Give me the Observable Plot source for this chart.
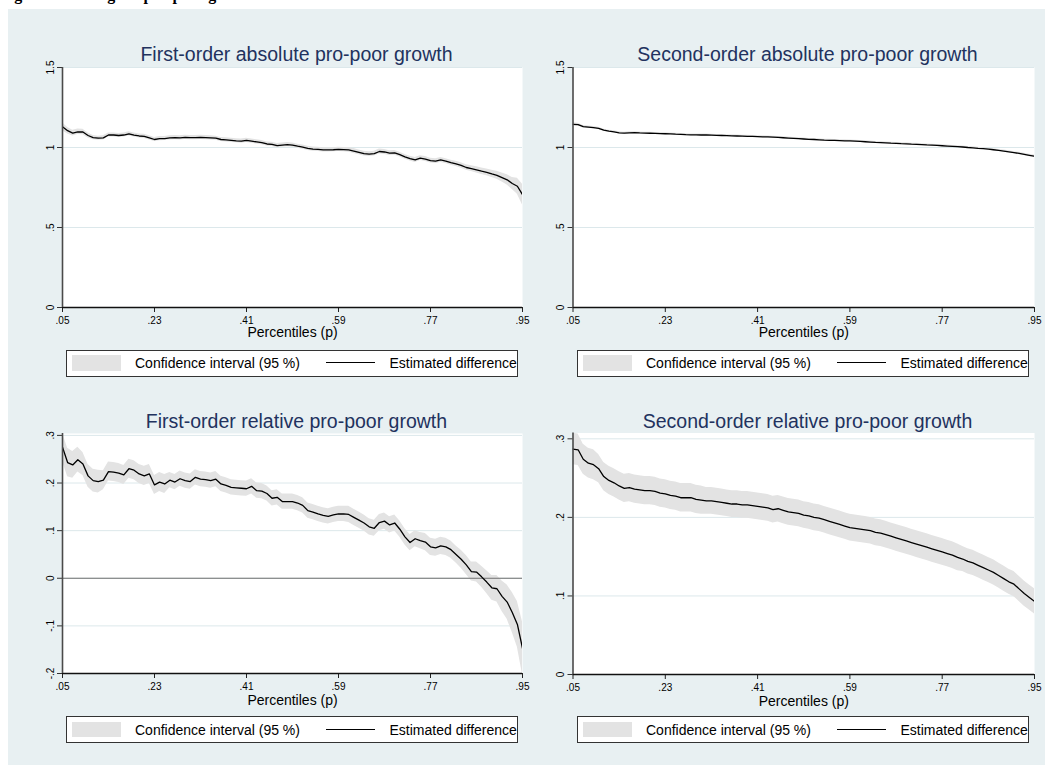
<!DOCTYPE html>
<html><head><meta charset="utf-8">
<script src="https://cdn.jsdelivr.net/npm/d3@7"></script>
<script src="https://cdn.jsdelivr.net/npm/@observablehq/plot@0.6"></script>
<style>
html,body{margin:0;padding:0;background:#fff;}
#page{position:relative;width:1053px;height:772px;overflow:hidden;font-family:"Liberation Sans",Arial,sans-serif;}
#bg{position:absolute;left:8px;top:9px;width:1037px;height:756px;background:#e8f0f2;}
.caption{position:absolute;left:0;top:-14px;font:bold 16px "Liberation Serif","Times New Roman",serif;white-space:nowrap;color:#000;}
.title{position:absolute;width:500px;text-align:center;font-size:19.5px;line-height:20px;color:#22325e;white-space:nowrap;}
.panel{position:absolute;}
.legend{position:absolute;width:452px;height:27px;box-sizing:border-box;border:1px solid #333;background:#fff;overflow:hidden;}
.legend .sw{position:absolute;left:5px;top:4.5px;width:49px;height:15.5px;background:#e3e3e3;}
.legend .ln{position:absolute;left:259px;top:11.5px;width:49px;height:0;border-top:1.5px solid #000;}
.legend .t{position:absolute;top:5.6px;font-size:14px;line-height:14px;white-space:nowrap;color:#000;}
</style>
</head>
<body>
<div id="page"><div id="bg"></div></div>
<script>
const captionText = "Figure 4: Testing for pro-poor growth";
const titles = [
  "First-order absolute pro-poor growth",
  "Second-order absolute pro-poor growth",
  "First-order relative pro-poor growth",
  "Second-order relative pro-poor growth"
];
const xAxisLabel = "Percentiles (p)";
const legendLabels = ["Confidence interval (95 %)", "Estimated difference"];

const xTicks = [0.05, 0.23, 0.41, 0.59, 0.77, 0.95];
const xTickLabels = [".05", ".23", ".41", ".59", ".77", ".95"];
const absTicks = [0, 0.5, 1, 1.5];
const absTickLabels = ["0", ".5", "1", "1.5"];
const foRelTicks = [-0.2, -0.1, 0, 0.1, 0.2, 0.3];
const foRelTickLabels = ["-.2", "-.1", "0", ".1", ".2", ".3"];
const soRelTicks = [0, 0.1, 0.2, 0.3];
const soRelTickLabels = ["0", ".1", ".2", ".3"];

const percentiles = [
  0.05,0.06,0.07,0.08,0.09,0.10,0.11,0.12,0.13,0.14,
  0.15,0.16,0.17,0.18,0.19,0.20,0.21,0.22,0.23,0.24,
  0.25,0.26,0.27,0.28,0.29,0.30,0.31,0.32,0.33,0.34,
  0.35,0.36,0.37,0.38,0.39,0.40,0.41,0.42,0.43,0.44,
  0.45,0.46,0.47,0.48,0.49,0.50,0.51,0.52,0.53,0.54,
  0.55,0.56,0.57,0.58,0.59,0.60,0.61,0.62,0.63,0.64,
  0.65,0.66,0.67,0.68,0.69,0.70,0.71,0.72,0.73,0.74,
  0.75,0.76,0.77,0.78,0.79,0.80,0.81,0.82,0.83,0.84,
  0.85,0.86,0.87,0.88,0.89,0.90,0.91,0.92,0.93,0.94,
  0.95
];

// First-order absolute: estimate and half-width of 95% CI
const foAbsEst = [
  1.130,1.105,1.090,1.098,1.097,1.075,1.062,1.058,1.060,1.078,
  1.078,1.075,1.078,1.085,1.078,1.072,1.070,1.060,1.050,1.055,
  1.056,1.060,1.062,1.060,1.063,1.062,1.062,1.063,1.062,1.060,
  1.058,1.050,1.048,1.045,1.042,1.040,1.045,1.040,1.035,1.030,
  1.022,1.020,1.012,1.015,1.018,1.015,1.008,1.002,0.995,0.990,
  0.988,0.985,0.985,0.986,0.988,0.987,0.985,0.978,0.970,0.962,
  0.958,0.962,0.975,0.972,0.965,0.967,0.955,0.942,0.930,0.922,
  0.933,0.928,0.918,0.915,0.922,0.915,0.905,0.898,0.888,0.875,
  0.868,0.860,0.852,0.845,0.835,0.826,0.812,0.798,0.775,0.758,
  0.705
];
const foAbsHw = [
  0.025,0.020,0.018,0.017,0.017,0.016,0.013,0.013,0.013,0.013,
  0.013,0.013,0.013,0.013,0.013,0.013,0.013,0.013,0.013,0.013,
  0.013,0.013,0.013,0.013,0.013,0.013,0.013,0.013,0.013,0.013,
  0.013,0.013,0.013,0.013,0.013,0.013,0.013,0.013,0.013,0.013,
  0.013,0.013,0.013,0.013,0.013,0.013,0.013,0.013,0.013,0.013,
  0.013,0.013,0.013,0.013,0.013,0.013,0.015,0.015,0.015,0.015,
  0.015,0.015,0.015,0.015,0.015,0.015,0.015,0.015,0.015,0.015,
  0.015,0.015,0.015,0.015,0.015,0.015,0.016,0.016,0.017,0.017,
  0.018,0.019,0.020,0.021,0.023,0.025,0.028,0.032,0.038,0.050,
  0.065
];

// Second-order absolute
const soAbsEst = [
  1.145,1.143,1.130,1.127,1.124,1.120,1.108,1.102,1.098,1.092,
  1.090,1.092,1.093,1.091,1.090,1.089,1.088,1.087,1.086,1.085,
  1.083,1.082,1.080,1.079,1.079,1.078,1.078,1.077,1.076,1.075,
  1.074,1.073,1.072,1.071,1.070,1.069,1.068,1.067,1.066,1.065,
  1.063,1.061,1.059,1.057,1.055,1.053,1.051,1.050,1.048,1.046,
  1.045,1.044,1.043,1.042,1.041,1.040,1.038,1.036,1.034,1.032,
  1.031,1.029,1.027,1.026,1.024,1.023,1.021,1.020,1.018,1.016,
  1.015,1.013,1.011,1.009,1.007,1.005,1.003,1.000,0.998,0.995,
  0.993,0.990,0.986,0.982,0.978,0.973,0.968,0.963,0.957,0.951,
  0.945
];
const soAbsHw = [
  0.010,0.009,0.008,0.007,0.007,0.006,0.006,0.006,0.006,0.006,
  0.006,0.006,0.006,0.006,0.006,0.006,0.006,0.006,0.006,0.006,
  0.006,0.006,0.006,0.006,0.006,0.006,0.006,0.006,0.006,0.006,
  0.006,0.006,0.006,0.006,0.006,0.006,0.006,0.006,0.006,0.006,
  0.006,0.006,0.006,0.006,0.006,0.006,0.006,0.006,0.006,0.006,
  0.006,0.006,0.006,0.006,0.006,0.006,0.006,0.006,0.006,0.006,
  0.006,0.006,0.006,0.006,0.006,0.006,0.006,0.006,0.006,0.006,
  0.006,0.006,0.006,0.006,0.006,0.006,0.006,0.006,0.006,0.006,
  0.006,0.006,0.006,0.006,0.006,0.006,0.006,0.007,0.007,0.007,
  0.008
];

// First-order relative
const foRelEst = [
  0.275,0.243,0.238,0.249,0.240,0.215,0.205,0.203,0.206,0.224,
  0.223,0.221,0.217,0.230,0.227,0.219,0.215,0.219,0.196,0.202,
  0.198,0.206,0.202,0.209,0.205,0.203,0.212,0.208,0.207,0.205,
  0.208,0.198,0.195,0.191,0.190,0.189,0.188,0.193,0.184,0.183,
  0.178,0.168,0.170,0.161,0.161,0.161,0.158,0.153,0.142,0.139,
  0.135,0.132,0.130,0.133,0.135,0.135,0.134,0.128,0.122,0.116,
  0.108,0.105,0.117,0.120,0.112,0.116,0.103,0.087,0.075,0.083,
  0.079,0.076,0.066,0.064,0.068,0.066,0.060,0.050,0.040,0.028,
  0.014,0.013,0.003,-0.008,-0.020,-0.022,-0.038,-0.050,-0.072,-0.097,
  -0.147
];
const foRelHw = [
  0.030,0.030,0.028,0.026,0.024,0.024,0.024,0.024,0.020,0.020,
  0.020,0.020,0.020,0.020,0.020,0.020,0.020,0.020,0.020,0.020,
  0.020,0.016,0.016,0.016,0.016,0.016,0.016,0.016,0.016,0.016,
  0.016,0.016,0.016,0.016,0.016,0.016,0.016,0.016,0.016,0.016,
  0.016,0.016,0.016,0.016,0.016,0.016,0.016,0.016,0.016,0.016,
  0.016,0.016,0.016,0.016,0.016,0.016,0.017,0.017,0.017,0.017,
  0.017,0.017,0.017,0.017,0.017,0.017,0.017,0.017,0.017,0.017,
  0.017,0.018,0.018,0.018,0.018,0.018,0.018,0.018,0.019,0.020,
  0.020,0.021,0.022,0.024,0.026,0.028,0.032,0.036,0.042,0.048,
  0.055
];

// Second-order relative
const soRelEst = [
  0.287,0.286,0.274,0.269,0.267,0.262,0.252,0.247,0.244,0.240,
  0.237,0.238,0.236,0.235,0.234,0.234,0.233,0.231,0.230,0.228,
  0.227,0.225,0.225,0.225,0.223,0.222,0.221,0.221,0.220,0.219,
  0.218,0.217,0.217,0.216,0.216,0.215,0.214,0.213,0.212,0.210,
  0.211,0.209,0.207,0.206,0.205,0.203,0.202,0.200,0.199,0.197,
  0.195,0.193,0.191,0.189,0.187,0.186,0.185,0.184,0.183,0.181,
  0.180,0.178,0.176,0.174,0.172,0.170,0.168,0.166,0.164,0.162,
  0.160,0.158,0.156,0.154,0.152,0.149,0.147,0.144,0.142,0.139,
  0.136,0.133,0.130,0.126,0.122,0.118,0.115,0.109,0.103,0.098,
  0.093
];
const soRelHw = [
  0.020,0.020,0.019,0.019,0.019,0.018,0.018,0.018,0.018,0.018,
  0.018,0.018,0.018,0.018,0.018,0.018,0.018,0.018,0.018,0.018,
  0.018,0.018,0.018,0.018,0.018,0.018,0.017,0.017,0.017,0.017,
  0.017,0.017,0.017,0.017,0.017,0.017,0.017,0.017,0.017,0.017,
  0.017,0.017,0.017,0.017,0.017,0.017,0.017,0.017,0.017,0.017,
  0.017,0.017,0.017,0.017,0.017,0.017,0.017,0.017,0.017,0.017,
  0.017,0.017,0.017,0.017,0.017,0.017,0.017,0.017,0.017,0.017,
  0.017,0.017,0.017,0.017,0.017,0.017,0.016,0.016,0.016,0.016,
  0.016,0.016,0.016,0.016,0.016,0.016,0.016,0.016,0.016,0.016,
  0.016
];

const FONT = '"Liberation Sans", Arial, sans-serif';
const page = document.getElementById("page");

const cap = document.createElement("div");
cap.className = "caption";
cap.textContent = captionText;
page.appendChild(cap);

const panels = [
  {title: titles[0], est: foAbsEst, hw: foAbsHw, yTicks: absTicks, yLabels: absTickLabels, yDomain: [0, 1.5],
   left: 0, top: 40, width: 530, height: 310, mL: 62, mR: 8, mT: 27, mB: 43, labDy: 25,
   titleX: 296.5, titleBase: 61, legLeft: 66, legTop: 349.5, zero: false},
  {title: titles[1], est: soAbsEst, hw: soAbsHw, yTicks: absTicks, yLabels: absTickLabels, yDomain: [0, 1.5],
   left: 530, top: 40, width: 523, height: 310, mL: 42.5, mR: 19, mT: 27, mB: 43, labDy: 25,
   titleX: 807.5, titleBase: 61, legLeft: 577, legTop: 349.5, zero: false},
  {title: titles[2], est: foRelEst, hw: foRelHw, yTicks: foRelTicks, yLabels: foRelTickLabels, yDomain: [-0.2, 0.304],
   left: 0, top: 408, width: 530, height: 305, mL: 62, mR: 8, mT: 25, mB: 40, labDy: 27,
   titleX: 296.5, titleBase: 428, legLeft: 66, legTop: 716, zero: true},
  {title: titles[3], est: soRelEst, hw: soRelHw, yTicks: soRelTicks, yLabels: soRelTickLabels, yDomain: [0, 0.3074],
   left: 530, top: 408, width: 523, height: 305, mL: 42.5, mR: 19, mT: 24.5, mB: 39, labDy: 27,
   titleX: 807.5, titleBase: 428, legLeft: 577, legTop: 716, zero: false}
];

for (const c of panels) {
  const rows = percentiles.map((p, i) => ({p, est: c.est[i], lo: c.est[i] - c.hw[i], hi: c.est[i] + c.hw[i]}));
  const grid = c.yTicks.filter(v => v !== c.yDomain[0]);
  const marks = [
    Plot.frame({fill: "#ffffff", stroke: "none"}),
    Plot.ruleY(grid, {stroke: "#dce8eb", strokeWidth: 1}),
    Plot.areaY(rows, {x: "p", y1: "lo", y2: "hi", fill: "#e3e3e3", clip: true})
  ];
  if (c.zero) marks.push(Plot.ruleY([0], {stroke: "#6f6f6f", strokeWidth: 1.2}));
  marks.push(
    Plot.lineY(rows, {x: "p", y: "est", stroke: "#000", strokeWidth: 1.3, clip: true}),
    Plot.axisX({ticks: xTicks, tickFormat: d => xTickLabels[xTicks.indexOf(d)], tickSize: 5, tickPadding: 4,
                fontSize: 10, label: null, stroke: "#222", fill: "#000"}),
    Plot.axisY({ticks: c.yTicks, tickFormat: () => "", tickSize: 5, label: null, stroke: "#333"}),
    Plot.text(c.yTicks, {y: d => d, text: d => c.yLabels[c.yTicks.indexOf(d)], frameAnchor: "left", dx: -12,
                rotate: -90, fontSize: 10, textAnchor: "middle", lineAnchor: "middle", fill: "#000"}),
    Plot.ruleY([c.yDomain[0]], {stroke: "#111", strokeWidth: 1.6}),
    Plot.ruleX([0.05], {stroke: "#4a4a4a", strokeWidth: 1.6}),
    Plot.text([xAxisLabel], {text: d => d, frameAnchor: "bottom", dy: c.labDy, fontSize: 14,
                textAnchor: "middle", lineAnchor: "middle", fill: "#000"})
  );
  const svg = Plot.plot({
    width: c.width, height: c.height,
    marginLeft: c.mL, marginRight: c.mR, marginTop: c.mT, marginBottom: c.mB,
    style: {background: "transparent", fontFamily: FONT, fontSize: "10px", overflow: "visible", color: "#000"},
    x: {domain: [0.05, 0.95]},
    y: {domain: c.yDomain, nice: false},
    marks
  });
  const wrap = document.createElement("div");
  wrap.className = "panel";
  wrap.style.left = c.left + "px";
  wrap.style.top = c.top + "px";
  wrap.appendChild(svg);
  page.appendChild(wrap);

  const t = document.createElement("div");
  t.className = "title";
  t.textContent = c.title;
  t.style.left = (c.titleX - 250) + "px";
  t.style.top = (c.titleBase - 16.75) + "px";
  page.appendChild(t);

  const lg = document.createElement("div");
  lg.className = "legend";
  lg.style.left = c.legLeft + "px";
  lg.style.top = c.legTop + "px";
  lg.innerHTML = '<div class="sw"></div><div class="t" style="left:68px">' + legendLabels[0] +
    '</div><div class="ln"></div><div class="t" style="left:322.5px">' + legendLabels[1] + '</div>';
  page.appendChild(lg);
}
</script>
</body></html>
